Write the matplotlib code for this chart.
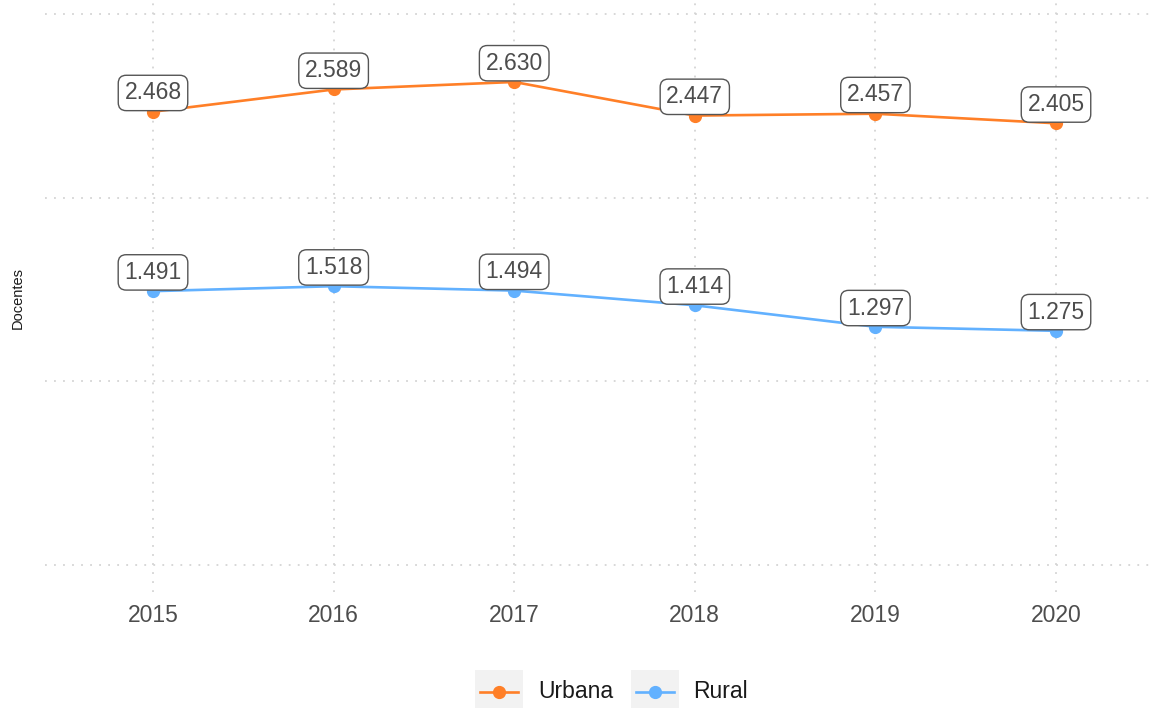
import matplotlib.pyplot as plt
from matplotlib.lines import Line2D
from matplotlib.patches import Rectangle

plt.rcParams['font.family'] = ['Liberation Sans', 'DejaVu Sans']

years = [2015, 2016, 2017, 2018, 2019, 2020]
urbana = [2468, 2589, 2630, 2447, 2457, 2405]
rural = [1491, 1518, 1494, 1414, 1297, 1275]
series_names = ["Urbana", "Rural"]
colors = ["#FF7F27", "#62B1FF"]

W, H = 1152, 708
fig = plt.figure(figsize=(W / 100, H / 100), dpi=100)

# panel placed in pixel units; right/top edges run past the figure border
left_px, bottom_px = 45, 592
ax = fig.add_axes([left_px / W, 1 - bottom_px / H, 1 - left_px / W, bottom_px / H])
px_per_year = (1056 - 153) / 5
ax.set_xlim(2015 - (153 - left_px) / px_per_year, 2015 + (W - 153) / px_per_year)
px_per_unit = (565 - 14) / 3000
ax.set_ylim(-(bottom_px - 565) / px_per_unit, 3000 + 14 / px_per_unit)

ax.set_xticks(years)
ax.set_yticks([0, 1000, 2000, 3000])
ax.set_yticklabels([])
ax.tick_params(axis='both', length=0)
ax.tick_params(axis='x', labelsize=16.5, labelcolor="#4d4d4d", pad=9)
ax.grid(True, color="#d4d4d4", linestyle=(0, (1, 4)), linewidth=1.3)
ax.set_axisbelow(True)
for s in ax.spines.values():
    s.set_visible(False)

fig.text(18 / W, 1 - 298 / H, "Docentes", rotation=90, ha='center', va='center',
         fontsize=10.5, color="#1a1a1a")


def fmt(v):
    return f"{v:,}".replace(",", ".")


for vals, col in zip([urbana, rural], colors):
    ax.plot(years, vals, color=col, linewidth=1.9, marker='o', markersize=8.5,
            solid_capstyle='round', zorder=3)
    for x, y in zip(years, vals):
        ax.annotate(fmt(y), (x, y), xytext=(0, 13.5), textcoords='offset points',
                    ha='center', va='center', fontsize=16.5, color="#4d4d4d", zorder=4,
                    bbox=dict(boxstyle="round,pad=0.27,rounding_size=0.35",
                              fc="white", ec="#555555", lw=1.0))

# legend drawn below the panel
lg = fig.add_axes([0, 0, 1, 1], facecolor='none')
lg.set_xlim(0, W)
lg.set_ylim(H, 0)
lg.axis('off')
keys = [(475, 538), (631, 693)]
for (kx, tx), name, col in zip(keys, series_names, colors):
    lg.add_patch(Rectangle((kx, 670), 48, 44, facecolor="#f2f2f2", edgecolor='none'))
    lg.add_line(Line2D([kx + 5, kx + 43], [692, 692], color=col, linewidth=1.9))
    lg.plot([kx + 24], [692], marker='o', color=col, markersize=8.5)
    lg.text(tx, 692, name, ha='left', va='center', fontsize=16.5, color="#1a1a1a")

fig.savefig("out.png", dpi=100)
